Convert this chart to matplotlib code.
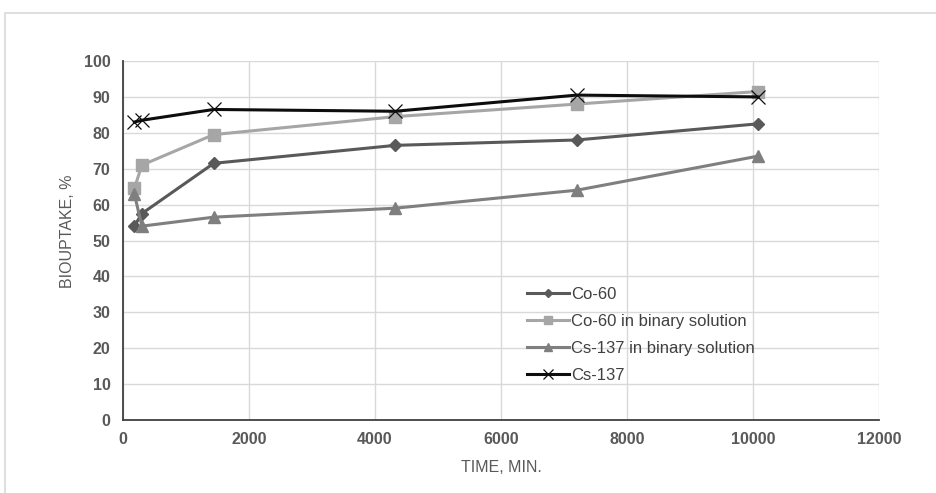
import matplotlib
matplotlib.use("Agg")
import matplotlib.pyplot as plt

plt.rcParams["font.family"] = ["Liberation Sans", "DejaVu Sans"]

time_min = [180, 300, 1440, 4320, 7200, 10080]
co60 = [54, 57.5, 71.5, 76.5, 78, 82.5]
co60_binary = [64.5, 71, 79.5, 84.5, 88, 91.5]
cs137_binary = [63, 54, 56.5, 59, 64, 73.5]
cs137 = [83, 83.5, 86.5, 86, 90.5, 90]

x_ticks = list(range(0, 12001, 2000))
y_ticks = list(range(0, 101, 10))

fig = plt.figure(figsize=(9.36, 4.93), dpi=100)
# outer chart border (runs off the right and bottom edges)
fig.patches.append(plt.Rectangle((5 / 936, -0.05), 1.05, 1.05 - 13 / 493, transform=fig.transFigure,
                                 fill=False, edgecolor="#d9d9d9", lw=1.2))
ax = fig.add_axes([123 / 936, 1 - 420 / 493, 756 / 936, 359 / 493])

ax.plot(time_min, co60, color="#595959", lw=2.2, marker="D", ms=6, label="Co-60", zorder=3)
ax.plot(time_min, co60_binary, color="#a6a6a6", lw=2.2, marker="s", ms=8,
        label="Co-60 in binary solution", zorder=3)
ax.plot(time_min, cs137_binary, color="#7f7f7f", lw=2.2, marker="^", ms=9,
        label="Cs-137 in binary solution", zorder=3)
ax.plot(time_min, cs137, color="#0d0d0d", lw=2.2, marker="x", ms=10, mew=0.9,
        label="Cs-137", zorder=4)

ax.set_xlim(0, 12000)
ax.set_ylim(0, 100)
ax.set_xticks(x_ticks)
ax.set_yticks(y_ticks)
ax.grid(True, color="#d9d9d9", lw=1)
ax.set_axisbelow(True)
for s in ["top", "right"]:
    ax.spines[s].set_visible(False)
for s in ["left", "bottom"]:
    ax.spines[s].set_color("#404040")
    ax.spines[s].set_linewidth(1.3)
ax.tick_params(length=0, labelsize=11.5, labelcolor="#595959", pad=9)
for lbl in ax.get_xticklabels() + ax.get_yticklabels():
    lbl.set_fontweight("bold")

ax.set_xlabel("TIME, MIN.", fontsize=11.5, color="#595959", labelpad=9)
ax.set_ylabel("BIOUPTAKE, %", fontsize=11.5, color="#595959", labelpad=4)
ax.yaxis.set_label_coords(-0.064, 0.525)

ax.legend(loc="upper left", bbox_to_anchor=(0.515, 0.412), frameon=False,
          fontsize=12, labelcolor="#404040", handlelength=2.5, handletextpad=0.1,
          labelspacing=0.72, markerscale=0.7)

fig.savefig("out.png", dpi=100)
